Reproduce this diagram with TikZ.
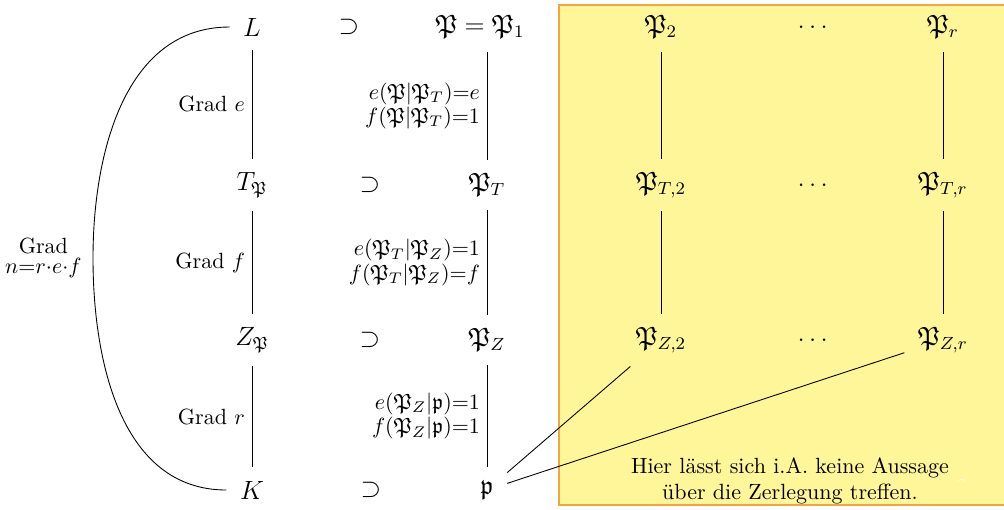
\documentclass[tikz,border=0pt]{standalone}
\usepackage{amsmath}
\usepackage{amssymb}
\usetikzlibrary{positioning, calc}
\definecolor{boxfill}{HTML}{FFF599}
\definecolor{boxline}{HTML}{F5A53C}

\begin{document}
\begin{tikzpicture}[
    x=0.4545pt, y=-0.4545pt,
    ob/.style={font=\large, inner sep=6pt},
    lbl/.style={font=\normalsize, align=center, inner sep=3pt},
    elbl/.style={font=\fontsize{10}{8.5}\selectfont, align=right, inner sep=3pt},
  ]
    \useasboundingbox (0,0) rectangle (1004,509);
    % region without control
    \fill[boxfill] (559,5) rectangle (1004,505);
    \draw[boxline, thick] (1004,5) -- (559,5) -- (559,505) -- (1004,505);

    % fields
    \node[ob] (L) at (252,27) {$L$};
    \node[ob] (T) at (252,185) {$T_{\mathfrak{P}}$};
    \node[ob] (Z) at (252,340) {$Z_{\mathfrak{P}}$};
    \node[ob] (K) at (252,490) {$K$};

    % inclusions
    \node[ob] (sup1) at (349,27) {$\supset$};
    \node[ob] (sup2) at (370,185) {$\supset$};
    \node[ob] (sup3) at (370,340) {$\supset$};
    \node[ob] (sup4) at (371,490) {$\supset$};

    % primes over p
    \node[ob] (P1) at (480,27) {$\mathfrak{P}=\mathfrak{P}_1$};
    \node[ob] (PT) at (487,185) {$\mathfrak{P}_T$};
    \node[ob] (PZ) at (487,340) {$\mathfrak{P}_Z$};
    \node[ob] (p) at (487,490) {$\mathfrak{p}$};

    % the other primes
    \node[ob] (P2) at (661,27) {$\mathfrak{P}_2$};
    \node[ob] (dots1) at (815,27) {$\dots$};
    \node[ob] (Pr) at (943,27) {$\mathfrak{P}_r$};
    \node[ob] (PT2) at (661,185) {$\mathfrak{P}_{T,2}$};
    \node[ob] (dots2) at (815,185) {$\dots$};
    \node[ob] (PTr) at (943,185) {$\mathfrak{P}_{T,r}$};
    \node[ob] (PZ2) at (661,340) {$\mathfrak{P}_{Z,2}$};
    \node[ob] (dots3) at (815,340) {$\dots$};
    \node[ob] (PZr) at (943,340) {$\mathfrak{P}_{Z,r}$};

    \node[lbl] (note) at (790,481) {Hier l\"asst sich i.A. keine Aussage\\\"uber die Zerlegung treffen.};
    \node[text=white, font=\scriptsize, inner sep=0pt] (hat) at (962,485) {\textasciicircum};

    % tower of fields
    \draw (L) -- node[lbl, left] {Grad $e$} (T);
    \draw (T) -- node[lbl, left] {Grad $f$} (Z);
    \draw (Z) -- node[lbl, left] {Grad $r$} (K);

    \coordinate (arcmid) at (93,258);
    \draw (L.west) to[out=180, in=90] (arcmid) to[out=-90, in=180] (K.west);
    \node[elbl, font=\fontsize{10}{9}\selectfont, align=center, left=2pt of arcmid] (grad) {Grad\\$n{=}r{\cdot}e{\cdot}f$};

    % tower of primes
    \draw (PT |- P1.south) -- node[elbl, left] {$e(\mathfrak{P}|\mathfrak{P}_T){=}e$\\$f(\mathfrak{P}|\mathfrak{P}_T){=}1$} (PT);
    \draw (PT) -- node[elbl, left] {$e(\mathfrak{P}_T|\mathfrak{P}_Z){=}1$\\$f(\mathfrak{P}_T|\mathfrak{P}_Z){=}f$} (PZ);
    \draw (PZ) -- node[elbl, left] {$e(\mathfrak{P}_Z|\mathfrak{p}){=}1$\\$f(\mathfrak{P}_Z|\mathfrak{p}){=}1$} (p);

    \draw (P2) -- (PT2);
    \draw (PT2) -- (PZ2);
    \draw (Pr) -- (PTr);
    \draw (PTr) -- (PZr);
    \draw (p) -- (PZ2);
    \draw (p) -- (PZr);
  \end{tikzpicture}
\end{document}
